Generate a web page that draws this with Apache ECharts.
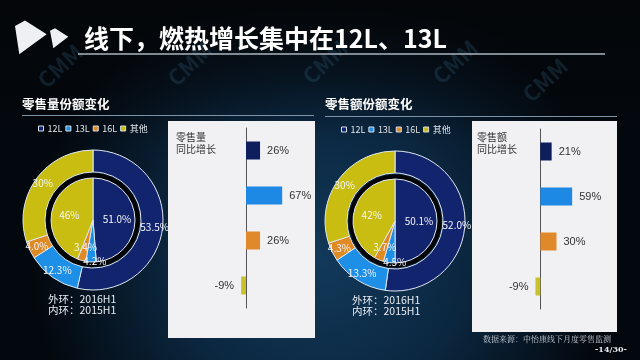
<!DOCTYPE html>
<html><head><meta charset="utf-8">
<script src="https://cdn.jsdelivr.net/npm/echarts@6/dist/echarts.min.js"></script>
<style>html,body{margin:0;padding:0;background:#03070c}#c{width:640px;height:360px}</style>
</head><body><div id="c"></div>
<script>
const categories = ['12L', '13L', '16L', '其他'];
const colors = ['#13246e', '#1e8fe6', '#e08a24', '#c8bd10'];
const barColors = ['#0e1f5e', '#1e88e5', '#e0892a', '#c9c12a'];
// 零售量份额
const volOuter = [53.5, 12.3, 4.0, 30];   // 外环 2016H1
const volInner = [51.0, 4.2, 3.4, 46];    // 内环 2015H1
const volGrowth = [26, 67, 26, -9];
// 零售额份额
const amtOuter = [52.0, 13.3, 4.3, 30];
const amtInner = [50.1, 4.5, 3.7, 42];
const amtGrowth = [21, 59, 30, -9];

const FONT = '"Noto Sans CJK SC","Noto Sans",sans-serif';
const chart = echarts.init(document.getElementById('c'), null, {renderer: 'canvas'});

function pieFmt(p) { return (p.dataIndex === 3 ? p.value : p.value.toFixed(1)) + '%'; }
function pieData(vals) { return vals.map((v, i) => ({name: categories[i], value: v, itemStyle: {color: colors[i]}})); }

function donut(cx, cy, outer, inner) {
  return [
    {type: 'pie', center: [cx, cy], radius: [48, 70], startAngle: 90, clockwise: true,
     avoidLabelOverlap: false, silent: true, data: pieData(outer),
     itemStyle: {borderColor: '#dfe8f2', borderWidth: 1},
     label: {show: true, position: 'inside', formatter: pieFmt, color: '#f4f6fa', fontSize: 10, fontFamily: FONT},
     labelLine: {show: false}},
    {type: 'pie', center: [cx, cy], radius: [42, 46.5], silent: true, data: [{name: '', value: 1, itemStyle: {color: '#020305'}}],
     label: {show: false}, labelLine: {show: false}},
    {type: 'pie', center: [cx, cy], radius: [0, 42], startAngle: 90, clockwise: true,
     avoidLabelOverlap: false, silent: true, data: pieData(inner),
     itemStyle: {borderColor: '#dfe8f2', borderWidth: 1},
     label: {show: true, position: 'inside', formatter: pieFmt, color: '#f4f6fa', fontSize: 10, fontFamily: FONT},
     labelLayout: function (p) {
       if (p.dataIndex === 1) return {dy: 17, dx: 3};
       if (p.dataIndex === 2) return {dy: 4, dx: -1};
       return {};
     },
     labelLine: {show: false}}
  ];
}

function barSeries(idx, vals) {
  return {type: 'bar', xAxisIndex: idx, yAxisIndex: idx, barWidth: 18, silent: true,
    data: vals.map((v, i) => ({value: v, itemStyle: {color: barColors[i]},
      label: {position: v < 0 ? 'left' : 'right'}})),
    label: {show: true, formatter: '{c}%', color: '#333', fontSize: 11, distance: 7, fontFamily: 'Liberation Sans, Arial, sans-serif'}};
}

const PX = 0.54;
const gridL = {left: 246 - 20 * PX, top: 128, width: 100 * PX, height: 180};
const gridR = {left: 540.3 - 20 * PX, top: 129, width: 100 * PX, height: 180};

function wm(x, y) {
  return {type: 'text', x: x, y: y, rotation: 0.75, z: -5, silent: true,
    style: {text: 'CMM', font: 'bold 22px ' + FONT, fill: 'rgba(70,130,170,0.2)', textAlign: 'center', textVerticalAlign: 'middle'}};
}

const legendBase = {data: categories, icon: 'rect', itemWidth: 5, itemHeight: 5, itemGap: 3, padding: 0, selectedMode: false,
  itemStyle: {borderColor: '#d8dee6', borderWidth: 1},
  textStyle: {color: '#dfe4ea', fontSize: 9, fontFamily: FONT, padding: [0, 0, 0, -1]}};

const option = {
  animation: false,
  backgroundColor: 'transparent',
  graphic: [
    {type: 'rect', z: -20, silent: true, shape: {x: 0, y: 0, width: 640, height: 360},
     style: {fill: new echarts.graphic.RadialGradient(0.5, 0.72, 0.8, [
       {offset: 0, color: '#12395a'}, {offset: 0.5, color: '#0b2740'}, {offset: 1, color: '#03080e'}])}},
    {type: 'rect', z: -19, silent: true, shape: {x: 0, y: 0, width: 640, height: 140},
     style: {fill: new echarts.graphic.LinearGradient(0, 0, 0, 1, [
       {offset: 0, color: 'rgba(4,6,8,0.95)'}, {offset: 1, color: 'rgba(4,6,8,0)'}])}},
    wm(60, 66), wm(190, 64), wm(325, 62), wm(455, 62), wm(545, 80),
    {type: 'polygon', silent: true, shape: {points: [[15, 26], [25, 20.5], [46.7, 34.3], [19.3, 54.3]]}, style: {fill: '#eef0f3'}},
    {type: 'polygon', silent: true, shape: {points: [[50, 30.7], [55, 28.3], [68.3, 36.7], [53.3, 48.3]]}, style: {fill: '#eef0f3'}},
    {type: 'text', x: 84, y: 38, silent: true, style: {text: '线下，燃热增长集中在12L、13L', font: 'bold 25px ' + FONT, fill: '#ffffff', textVerticalAlign: 'middle'}},
    {type: 'line', silent: true, shape: {x1: 78, y1: 54, x2: 605, y2: 54}, style: {stroke: '#aab6c2', lineWidth: 1.5}},
    {type: 'text', x: 22, y: 104, silent: true, style: {text: '零售量份额变化', font: 'bold 12.5px ' + FONT, fill: '#ffffff', textVerticalAlign: 'middle'}},
    {type: 'text', x: 325, y: 104, silent: true, style: {text: '零售额份额变化', font: 'bold 12.5px ' + FONT, fill: '#ffffff', textVerticalAlign: 'middle'}},
    {type: 'line', silent: true, shape: {x1: 22, y1: 115.5, x2: 314, y2: 115.5}, style: {stroke: '#7f93a6', lineWidth: 1}},
    {type: 'line', silent: true, shape: {x1: 325, y1: 116.5, x2: 617, y2: 116.5}, style: {stroke: '#7f93a6', lineWidth: 1}},
    {type: 'rect', z: -1, silent: true, shape: {x: 168, y: 121, width: 147, height: 217}, style: {fill: '#f1f1f3'}},
    {type: 'rect', z: -1, silent: true, shape: {x: 472, y: 121, width: 145, height: 211}, style: {fill: '#f1f1f3'}},
    {type: 'text', x: 176, y: 131, silent: true, style: {text: '零售量\n同比增长', font: '10px ' + FONT, fill: '#333', lineHeight: 12}},
    {type: 'text', x: 477, y: 131, silent: true, style: {text: '零售额\n同比增长', font: '10px ' + FONT, fill: '#333', lineHeight: 12}},
    {type: 'text', x: 48, y: 294, silent: true, style: {text: '外环：2016H1\n内环：2015H1', font: '10.5px ' + FONT, fill: '#e8ecf2', lineHeight: 11}},
    {type: 'text', x: 352, y: 295, silent: true, style: {text: '外环：2016H1\n内环：2015H1', font: '10.5px ' + FONT, fill: '#e8ecf2', lineHeight: 11}},
    {type: 'text', x: 483, y: 339, silent: true, style: {text: '数据来源：中怡康线下月度零售监测', font: '8px "Noto Serif CJK SC","DejaVu Serif",serif', fill: '#c9ced6', textVerticalAlign: 'middle'}},
    {type: 'text', x: 595, y: 350, silent: true, style: {text: '-14/30-', font: 'bold 8px "DejaVu Serif",serif', fill: '#e6e8ec', textVerticalAlign: 'middle'}}
  ],
  legend: [
    Object.assign({left: 38, top: 124}, legendBase),
    Object.assign({left: 341, top: 125}, legendBase)
  ],
  grid: [gridL, gridR],
  xAxis: [
    {gridIndex: 0, type: 'value', min: -20, max: 80, show: false},
    {gridIndex: 1, type: 'value', min: -20, max: 80, show: false}
  ],
  yAxis: [0, 1].map(i => ({gridIndex: i, type: 'category', data: categories, inverse: true,
    axisLine: {show: true, onZero: true, lineStyle: {color: '#555', width: 1}},
    axisTick: {show: false}, axisLabel: {show: false}, splitLine: {show: false}})),
  series: [
    ...donut(93, 220, volOuter, volInner),
    ...donut(395, 221, amtOuter, amtInner),
    barSeries(0, volGrowth),
    barSeries(1, amtGrowth)
  ]
};
chart.setOption(option);
</script></body></html>
